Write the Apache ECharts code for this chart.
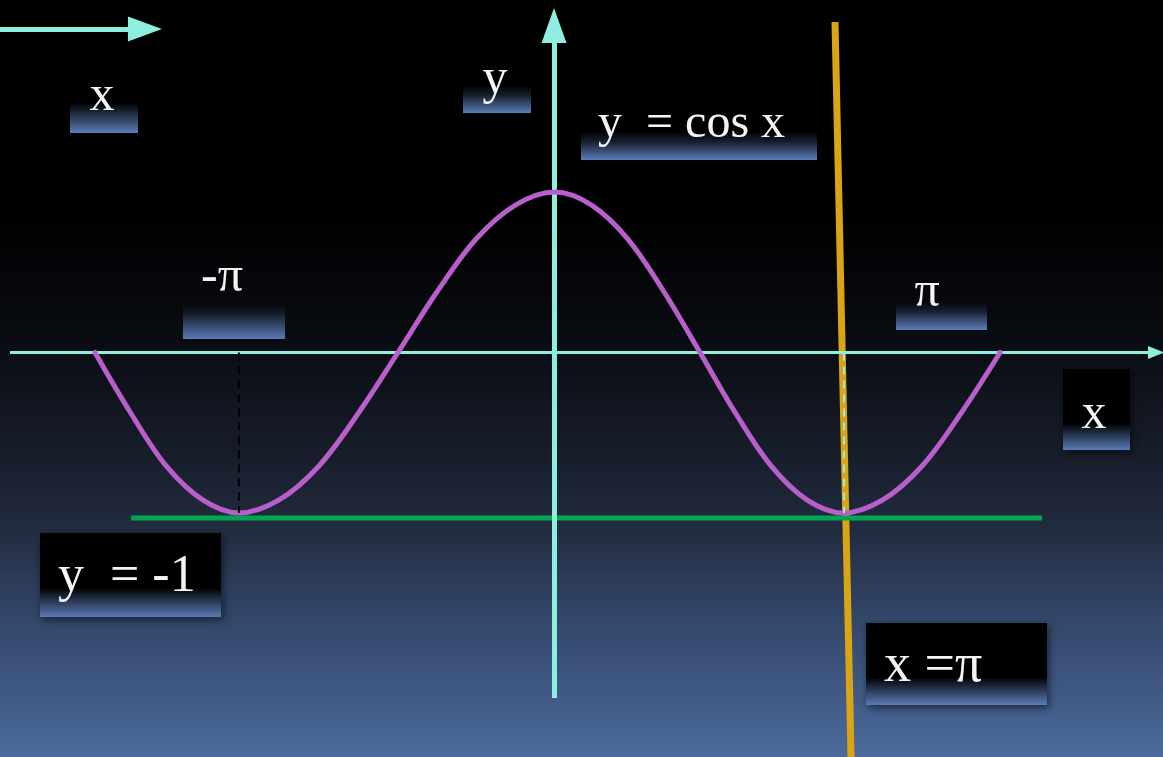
<!DOCTYPE html>
<html>
<head>
<meta charset="utf-8">
<style>
  html, body { margin: 0; padding: 0; background: #000; }
  #chart { width: 1163px; height: 757px; }
</style>
<script src="https://cdn.jsdelivr.net/npm/echarts@6/dist/echarts.min.js"></script>
</head>
<body>
<div id="chart"></div>
<script>
// y = cos x (x in radians, y value)
var curveX = [-4.775, -4.40, -4.03, -3.65, -3.277, -2.864, -2.45, -2.037, -1.623,
  -1.215, -0.806, -0.398, 0.01, 0.387, 0.764, 1.142, 1.519,
  1.891, 2.263, 2.635, 3.007, 3.415, 3.824, 4.232, 4.64];
var curveY = [0, -0.38, -0.71, -0.92, -1, -0.92, -0.71, -0.38, 0,
  0.38, 0.71, 0.92, 1, 0.92, 0.71, 0.38, 0,
  -0.38, -0.71, -0.92, -1, -0.92, -0.71, -0.38, 0];

// reference lines (data coords)
var lineYm1 = [[-4.40, -1.031], [5.076, -1.031]];   // y = -1
var lineXpi = [[2.923, 2.059], [3.09, -2.52]];      // x = pi (tilted, as drawn)
var dashNegPi = [[-3.277, 0], [-3.277, -1]];
var dashPi = [[3.017, 0], [3.017, -1]];

// axes with arrows
var axisX = [[-5.659, 0], [6.262, 0]];
var axisY = [[0, -2.153], [0, 2.037]];
var topArrow = [[-5.763, 2.016], [-4.255, 2.016]];

var labelTexts = ['x', 'y', 'y  = cos x', '-π', 'π', 'x', 'y  = -1', 'x =π'];

var myChart = echarts.init(document.getElementById('chart'));

var SERIF = '"Liberation Serif", "Times New Roman", serif';
var BLUE = '#5a7bb6';

function label(txt, box, tx, ty, size, align, blackStop, shadow) {
  var stops = blackStop > 0
    ? [{offset: 0, color: '#000'}, {offset: blackStop, color: '#000'}, {offset: 1, color: BLUE}]
    : [{offset: 0, color: '#05070b'}, {offset: 0.3, color: '#151c2b'}, {offset: 1, color: BLUE}];
  var rectStyle = {
    fill: new echarts.graphic.LinearGradient(0, 0, 0, 1, stops)
  };
  if (shadow) {
    rectStyle.shadowBlur = 8;
    rectStyle.shadowColor = 'rgba(0,0,0,0.55)';
    rectStyle.shadowOffsetX = 2;
    rectStyle.shadowOffsetY = 3;
  }
  return {
    type: 'group',
    children: [{
      type: 'rect',
      shape: {x: box[0], y: box[1], width: box[2], height: box[3]},
      style: rectStyle
    }, {
      type: 'text',
      x: tx,
      y: ty,
      style: {
        text: txt,
        font: size + 'px ' + SERIF,
        fill: '#f4f4f4',
        textAlign: align,
        textVerticalAlign: 'middle'
      }
    }]
  };
}

var CYAN = '#8eefe0';

var option = {
  animation: false,
  backgroundColor: new echarts.graphic.LinearGradient(0, 0, 0, 1, [
    {offset: 0, color: '#000000'},
    {offset: 0.28, color: '#000000'},
    {offset: 0.45, color: '#090c12'},
    {offset: 0.6, color: '#171d2a'},
    {offset: 0.7, color: '#222c40'},
    {offset: 0.82, color: '#33476a'},
    {offset: 1, color: '#4c6a9c'}
  ]),
  grid: {left: 0, right: 0, top: 0, bottom: 0},
  xAxis: {type: 'value', min: -5.763, max: 6.335, show: false},
  yAxis: {type: 'value', min: -2.52, max: 2.196, show: false},
  series: [
    {
      name: 'x = π',
      type: 'line',
      data: lineXpi,
      symbol: 'none',
      silent: true,
      z: 2,
      lineStyle: {color: '#daa514', width: 7}
    },
    {
      name: 'axes',
      type: 'line',
      data: [],
      z: 3,
      markLine: {
        silent: true,
        symbol: ['none', 'triangle'],
        label: {show: false},
        emphasis: {disabled: true},
        data: [
          [{coord: axisX[0], lineStyle: {color: CYAN, width: 3, type: 'solid'}},
           {coord: axisX[1], symbolSize: [13, 16]}],
          [{coord: axisY[0], lineStyle: {color: CYAN, width: 5, type: 'solid'}},
           {coord: axisY[1], symbolSize: [25, 35]}],
          [{coord: topArrow[0], lineStyle: {color: CYAN, width: 5, type: 'solid'}},
           {coord: topArrow[1], symbolSize: [25, 34]}]
        ]
      }
    },
    {
      name: 'y = -1',
      type: 'line',
      data: lineYm1,
      symbol: 'none',
      silent: true,
      z: 4,
      lineStyle: {color: '#00a651', width: 5}
    },
    {
      name: 'y = cos x',
      type: 'line',
      data: curveX.map(function (x, i) { return [x, curveY[i]]; }),
      smooth: 0.35,
      symbol: 'none',
      silent: true,
      z: 5,
      lineStyle: {color: '#b95fcb', width: 5, cap: 'round'}
    },
    {
      type: 'line',
      data: dashNegPi,
      symbol: 'none',
      silent: true,
      z: 6,
      lineStyle: {color: '#000', width: 2, type: [8, 6]}
    },
    {
      type: 'line',
      data: dashPi,
      symbol: 'none',
      silent: true,
      z: 6,
      lineStyle: {color: CYAN, width: 2, type: [8, 6]}
    }
  ],
  graphic: [
    label(labelTexts[0], [70, 90, 68, 43], 102, 97, 50, 'center', 0.3, false),
    label(labelTexts[1], [463, 87, 68, 26], 495, 80, 50, 'center', 0, false),
    label(labelTexts[2], [581, 133, 236, 27], 598, 124, 48, 'left', 0, false),
    label(labelTexts[3], [183, 303, 102, 36], 201, 278, 50, 'left', 0, false),
    label(labelTexts[4], [896, 302, 91, 28], 927, 293, 50, 'center', 0, false),
    label(labelTexts[5], [1063, 369, 67, 81], 1094, 415, 50, 'center', 0.67, true),
    label(labelTexts[6], [40, 533, 181, 84], 58, 577, 52, 'left', 0.65, true),
    label(labelTexts[7], [866, 623, 181, 82], 884, 667, 54, 'left', 0.66, true)
  ]
};

myChart.setOption(option);
window.addEventListener('resize', function () {
  myChart.resize();
});
</script>
</body>
</html>
